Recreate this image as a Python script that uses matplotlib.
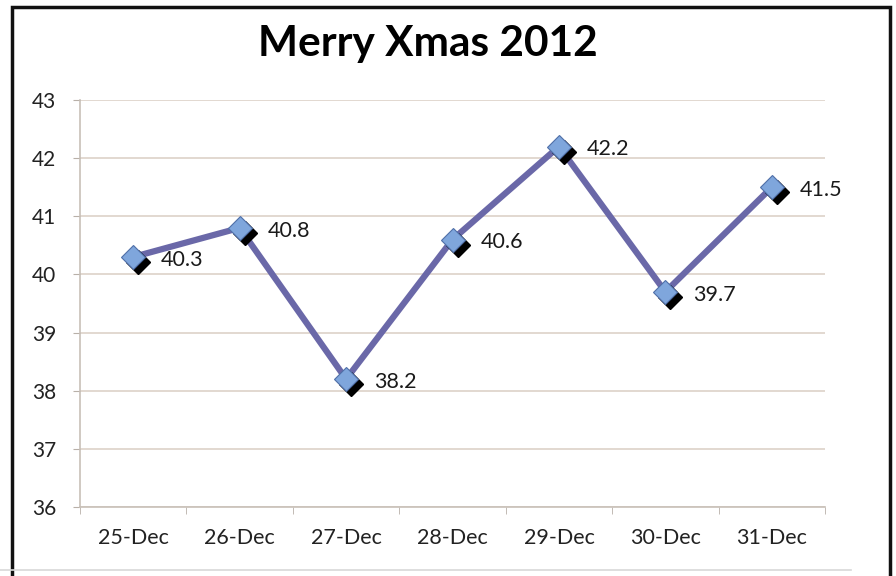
import matplotlib
matplotlib.use('Agg')
import matplotlib.pyplot as plt
import matplotlib.transforms as mtransforms
from matplotlib.patches import Rectangle
from matplotlib.lines import Line2D

days = ['25-Dec', '26-Dec', '27-Dec', '28-Dec', '29-Dec', '30-Dec', '31-Dec']
temps = [40.3, 40.8, 38.2, 40.6, 42.2, 39.7, 41.5]
yticks = [36, 37, 38, 39, 40, 41, 42, 43]

plt.rcParams['font.family'] = ['Lato', 'DejaVu Sans']

fig = plt.figure(figsize=(8.96, 5.76), dpi=100)
ax = fig.add_axes([0.0893, 0.1198, 0.8315, 0.7066])

xs = list(range(len(days)))

# line first, then shadowed diamonds
ax.plot(xs, temps, color='#6a68a8', linewidth=4.5, zorder=3, solid_capstyle='round')
shadow = mtransforms.offset_copy(ax.transData, fig=fig, x=5, y=-5, units='dots')
ax.plot(xs, temps, linestyle='none', marker='D', markersize=12,
        color='black', transform=shadow, zorder=4)
ax.plot(xs, temps, linestyle='none', marker='D', markersize=12,
        markerfacecolor='#7fa6dc', markeredgecolor='#4f6fa8', markeredgewidth=0.8,
        zorder=5)

for x, v in zip(xs, temps):
    ax.annotate('{0:.1f}'.format(v), (x, v), xytext=(20, -2), textcoords='offset points',
                ha='left', va='center', fontsize=15.5, color='#1a1a1a', zorder=6)

ax.set_xlim(-0.5, len(days) - 0.5)
ax.set_ylim(36, 43)
ax.set_yticks(yticks)
ax.set_yticklabels([str(t) for t in yticks], fontsize=15, color='#222222')
ax.set_xticks(xs)
ax.set_xticklabels(days, fontsize=15.5, color='#222222')
ax.set_xticks([i - 0.5 for i in range(len(days) + 1)], minor=True)
ax.tick_params(axis='x', which='major', length=0, pad=15)
ax.tick_params(axis='x', which='minor', length=5, color='#b8b0a8', direction='out')
ax.tick_params(axis='y', length=5, color='#b8b0a8', pad=12)

ax.grid(axis='y', color='#ddd2c8', linewidth=1.2)
ax.set_axisbelow(True)
for side in ('top', 'right'):
    ax.spines[side].set_visible(False)
for side in ('left', 'bottom'):
    ax.spines[side].set_color('#c8c0b8')
    ax.spines[side].set_linewidth(1.2)

fig.text(0.478, 0.924, 'Merry Xmas 2012', ha='center', va='center',
         fontsize=30.5, fontweight='bold', color='black')

# outer frame
fig.add_artist(Rectangle((0.0134, -0.05), 0.9796, 1.038, transform=fig.transFigure,
                         fill=False, edgecolor='#111111', linewidth=2.5))
fig.add_artist(Line2D([0.0, 0.95], [0.0104, 0.0104], transform=fig.transFigure,
                      color='#d8d8d8', linewidth=1.2))

fig.savefig('out.png', dpi=100)
